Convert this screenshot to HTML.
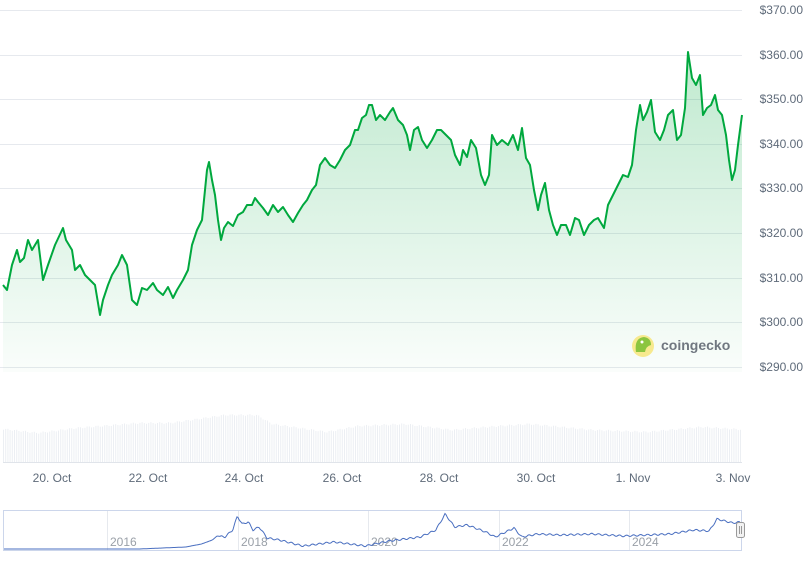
<!DOCTYPE html>
<html><head><meta charset="utf-8"><style>
body{margin:0;background:#fff;width:807px;height:556px;overflow:hidden;font-family:"Liberation Sans",sans-serif}
</style></head><body>
<svg id="s" width="807" height="556" xmlns="http://www.w3.org/2000/svg">
<defs><linearGradient id="g" x1="0" y1="0" x2="0" y2="1">
<stop offset="0" stop-color="#00a83e" stop-opacity="0.25"/>
<stop offset="1" stop-color="#00a83e" stop-opacity="0.02"/></linearGradient></defs>
<g stroke="#e6e9ee" stroke-width="1">
<line x1="0" x2="742" y1="10.5" y2="10.5"/><line x1="0" x2="742" y1="55.5" y2="55.5"/>
<line x1="0" x2="742" y1="99.5" y2="99.5"/><line x1="0" x2="742" y1="144.5" y2="144.5"/>
<line x1="0" x2="742" y1="188.5" y2="188.5"/><line x1="0" x2="742" y1="233.5" y2="233.5"/>
<line x1="0" x2="742" y1="278.5" y2="278.5"/><line x1="0" x2="742" y1="322.5" y2="322.5"/>
<line x1="0" x2="742" y1="367.5" y2="367.5"/>
</g>
<g font-size="12" fill="#5f6b7a" text-anchor="end">
<text x="803" y="14">$370.00</text><text x="803" y="59">$360.00</text>
<text x="803" y="103">$350.00</text><text x="803" y="148">$340.00</text>
<text x="803" y="192">$330.00</text><text x="803" y="237">$320.00</text>
<text x="803" y="282">$310.00</text><text x="803" y="326">$300.00</text>
<text x="803" y="371">$290.00</text>
</g>
<g id="vol" fill="#eceff3"></g>
<path id="area" fill="url(#g)"/>
<path id="line" fill="none" stroke="#00a83e" stroke-width="2" stroke-linejoin="round"/>
<circle cx="643" cy="346" r="11" fill="#f7e98e"/>
<path d="M636 352 Q634 338 644 337 Q651 338 651 345 Q646 346 645 352 Z" fill="#8bc53f"/>
<circle cx="642" cy="342" r="1.5" fill="#fff"/>
<text x="661" y="350" font-size="14" font-weight="bold" fill="#707780">coingecko</text>
<g font-size="12" fill="#5f6b7a" text-anchor="middle">
<text x="52" y="482">20. Oct</text><text x="148" y="482">22. Oct</text>
<text x="244" y="482">24. Oct</text><text x="342" y="482">26. Oct</text>
<text x="439" y="482">28. Oct</text><text x="536" y="482">30. Oct</text>
<text x="633" y="482">1. Nov</text><text x="733" y="482">3. Nov</text>
</g>
<g stroke="#e6e9ee"><line x1="107.5" x2="107.5" y1="511" y2="550"/><line x1="238.5" x2="238.5" y1="511" y2="550"/><line x1="368.5" x2="368.5" y1="511" y2="550"/><line x1="499.5" x2="499.5" y1="511" y2="550"/><line x1="629.5" x2="629.5" y1="511" y2="550"/></g>
<g font-size="12" fill="#9aa0a8">
<text x="110" y="546">2016</text><text x="241" y="546">2018</text><text x="371" y="546">2020</text><text x="502" y="546">2022</text><text x="632" y="546">2024</text>
</g>
<path id="nav" fill="none" stroke="#4a6fc0" stroke-width="1"/>
<rect x="3.5" y="510.5" width="738" height="40" fill="none" stroke="#ccd6eb"/>
<rect x="736.5" y="522.5" width="8" height="15" rx="2" fill="#f2f2f2" stroke="#999"/>
<line x1="739.5" x2="739.5" y1="526" y2="534" stroke="#999"/><line x1="741.5" x2="741.5" y1="526" y2="534" stroke="#999"/>
</svg>
<script>
var p=[3,285,7,290,12,265,17,250,20,262,24,258,28,240,32,250,38,240,43,280,48,265,55,245,63,228,66,240,72,250,75,270,80,265,85,275,90,280,95,285,100,315,103,300,108,285,112,275,118,265,122,255,127,265,132,300,137,305,142,288,147,290,153,283,157,290,163,295,168,287,173,298,177,290,183,280,188,270,192,245,197,230,202,220,207,170,209,162,212,180,215,195,218,220,221,240,224,228,228,222,233,226,238,215,243,212,247,205,252,205,255,198,258,202,263,208,268,215,273,205,278,212,283,207,288,215,293,222,298,213,303,205,307,200,312,190,316,185,320,165,325,158,330,165,335,168,340,160,345,150,350,145,355,130,358,130,362,118,366,115,369,105,372,105,376,120,380,115,385,120,390,112,393,108,398,120,403,125,407,135,410,150,414,130,418,127,422,140,427,148,432,140,437,130,441,130,446,135,451,140,455,155,460,165,463,150,467,157,471,140,476,148,481,175,485,185,489,175,492,135,497,145,502,140,508,145,513,135,518,150,522,128,526,158,530,165,534,190,538,210,541,195,545,183,549,210,553,225,557,235,561,225,566,225,570,235,575,218,579,220,584,235,589,225,594,220,598,218,604,228,608,205,613,195,618,185,623,175,628,177,632,165,636,130,640,105,643,120,647,112,651,100,655,132,660,140,664,130,668,115,673,110,677,140,681,135,685,108,688,52,692,78,696,85,700,75,703,115,707,108,711,105,715,95,718,110,722,115,726,135,729,160,732,180,735,170,738,145,742,115];
var d="M"+p[0]+" "+p[1];for(var i=2;i<p.length;i+=2)d+=" L"+p[i]+" "+p[i+1];
document.getElementById('line').setAttribute('d',d);
document.getElementById('area').setAttribute('d',d+" L742 372 L3 372 Z");
var vk=[[3,429],[25,433],[50,428],[90,423],[110,423],[145,415],[165,415],[175,424],[210,432],[230,426],[260,424],[290,430],[320,426],[340,424],[380,430],[415,432],[450,427],[480,430],[510,431],[560,432],[580,430],[620,432],[640,430],[700,428],[742,427]];
vk=vk.map(function(a){return [3+(a[0]-3)*1.5625,a[1]];});
function vt(x){for(var i=1;i<vk.length;i++)if(x<=vk[i][0]){var a=vk[i-1],b=vk[i];return a[1]+(b[1]-a[1])*(x-a[0])/(b[0]-a[0]);}return 427;}
var h="";for(var x=3;x<742;x+=2.2){var t=vt(x)+Math.sin(x*0.7)*0.8;h+='<rect x="'+x.toFixed(1)+'" y="'+t.toFixed(1)+'" width="1" height="'+(463-t).toFixed(1)+'"/>';}
document.getElementById('vol').innerHTML=h+'<rect x="3" y="462" width="739" height="1" fill="#e0e4ea"/>';
var nk=[[3,549],[90,549],[120,547],[130,544],[137,540],[140,536],[145,537],[150,530],[153,516],[156,524],[160,522],[163,530],[167,527],[172,538],[180,540],[195,546],[215,542],[235,546],[250,541],[270,537],[280,530],[286,514],[292,527],[300,525],[312,532],[318,537],[330,528],[335,537],[345,534],[360,535],[380,534],[400,536],[430,534],[445,530],[455,531],[460,519],[470,523],[475,522],[477,525]];
nk=nk.map(function(a){return [3+(a[0]-3)*1.5625,a[1]];});
var nd="M"+nk[0][0]+" "+nk[0][1];for(var x=4;x<=740;x++){var y;y=undefined;for(var i=1;i<nk.length;i++)if(x<=nk[i][0]){var a=nk[i-1],b=nk[i];y=a[1]+(b[1]-a[1])*(x-a[0])/(b[0]-a[0]);break;}if(y===undefined)y=525;if(x>220)y+=Math.sin(x*0.9)*0.8;nd+=" L"+x+" "+y.toFixed(1);}
document.getElementById('nav').setAttribute('d',nd);
</script>
</body></html>
